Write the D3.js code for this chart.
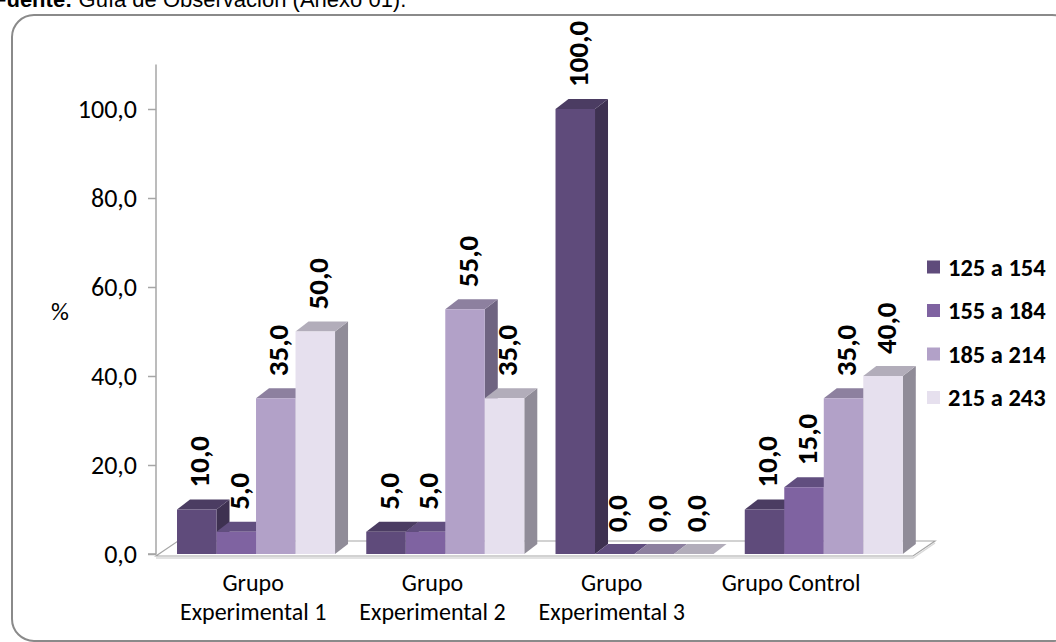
<!DOCTYPE html>
<html>
<head>
<meta charset="utf-8">
<script src="https://cdn.jsdelivr.net/npm/d3@7"></script>
<style>
  html, body { margin: 0; padding: 0; background: #fff; }
  svg { display: block; }
</style>
</head>
<body>
<svg id="chart" width="1056" height="642"></svg>
<script>
// Grupos evaluados y rangos de puntaje
const groups = ["Grupo Experimental 1", "Grupo Experimental 2", "Grupo Experimental 3", "Grupo Control"];
const groupLines = [["Grupo", "Experimental 1"], ["Grupo", "Experimental 2"], ["Grupo", "Experimental 3"], ["Grupo Control"]];
const series = ["125 a 154", "155 a 184", "185 a 214", "215 a 243"];
// Porcentaje por rango, un arreglo por serie (orden de los grupos)
const s125 = [10, 5, 100, 10];
const s155 = [5, 5, 0, 15];
const s185 = [35, 55, 0, 35];
const s215 = [50, 35, 0, 40];
const values = [s125, s155, s185, s215];
const yTicks = [0, 20, 40, 60, 80, 100];

// Colores de cada serie: cara frontal, superior y lateral
const palette = [
  { front: "#5f4b7b", top: "#4b3c62", side: "#3e3151" },
  { front: "#7f63a1", top: "#614e7f", side: "#4e3f66" },
  { front: "#b2a1c8", top: "#8d809f", side: "#6f6481" },
  { front: "#e6e0ee", top: "#b2adba", side: "#908c98" }
];

const FONT = "Carlito, Calibri, Lato, 'Open Sans', sans-serif";
const svg = d3.select("#chart");

// Marco redondeado del gráfico
svg.append("rect")
  .attr("x", 12).attr("y", 15).attr("width", 1062).attr("height", 626)
  .attr("rx", 22).attr("ry", 22)
  .attr("fill", "#fff").attr("stroke", "#8a8a8a").attr("stroke-width", 2);

// Nota de fuente
const src = svg.append("text")
  .attr("x", -7).attr("y", 7)
  .attr("font-family", "'Liberation Sans', Arial, sans-serif")
  .attr("font-size", 22).attr("fill", "#000");
src.append("tspan").attr("font-weight", "bold").text("Fuente:");
src.append("tspan").text(" Guía de Observación (Anexo 01).");

// Escalas
const y = d3.scaleLinear().domain([0, 110]).range([554, 64.5]);
const x0 = d3.scaleBand().domain(groups).range([161.4, 918.4]).paddingInner(0.165).paddingOuter(0.0825);
const x1 = d3.scaleBand().domain(series).range([0, x0.bandwidth()]);
const xLab = d3.scaleBand().domain(groups).range([163.5, 880.8]);

const depth = { dx: 13, dy: -10 };
const floorDepth = { dx: 22, dy: -15 };
const floorFront = 556, floorLeft = 156, floorRight = 913;

// Piso 3D
svg.append("path")
  .attr("d", `M${floorLeft},${floorFront + 2} L${floorRight},${floorFront + 2} L${floorRight + floorDepth.dx},${floorFront + 2 + floorDepth.dy}`)
  .attr("fill", "none").attr("stroke", "#d9d9d9").attr("stroke-width", 1.5);
svg.append("path")
  .attr("d", `M${floorLeft},${floorFront} L${floorRight},${floorFront} L${floorRight + floorDepth.dx},${floorFront + floorDepth.dy} L${floorLeft + floorDepth.dx},${floorFront + floorDepth.dy} Z`)
  .attr("fill", "#fff").attr("stroke", "#a6a6a6").attr("stroke-width", 1.2);

// Eje vertical
const axis = d3.axisLeft(y).tickValues(yTicks).tickSize(8).tickPadding(11)
  .tickFormat(d => d3.format(".1f")(d).replace(".", ","));
const gAxis = svg.append("g").attr("transform", "translate(156,0)").call(axis);
gAxis.select(".domain").attr("stroke", "#a6a6a6").attr("stroke-width", 1.5)
  .attr("d", `M-8,${y(0)}H0V${y(110)}`);
gAxis.selectAll(".tick line").attr("stroke", "#a6a6a6").attr("stroke-width", 1.5);
gAxis.selectAll(".tick text").attr("font-family", FONT).attr("font-size", 26).attr("fill", "#000");

svg.append("text").attr("x", 60).attr("y", 320).attr("text-anchor", "middle")
  .attr("font-family", FONT).attr("font-size", 25).text("%");

// Barras 3D (se dibujan de izquierda a derecha)
const bars = [];
groups.forEach((g, gi) => {
  series.forEach((s, si) => {
    bars.push({ g, s, si, v: values[si][gi] });
  });
});

const gBars = svg.append("g");
bars.forEach(b => {
  const c = palette[b.si];
  const xl = x0(b.g) + x1(b.s);
  const xr = xl + x1.bandwidth();
  const yt = y(b.v), yb = y(0);
  const { dx, dy } = depth;
  const grp = gBars.append("g");
  // cara lateral
  grp.append("path")
    .attr("d", `M${xr},${yb} L${xr + dx},${yb + dy} L${xr + dx},${yt + dy} L${xr},${yt} Z`)
    .attr("fill", c.side);
  // cara superior
  grp.append("path")
    .attr("d", `M${xl},${yt} L${xl + dx},${yt + dy} L${xr + dx},${yt + dy} L${xr},${yt} Z`)
    .attr("fill", c.top);
  // cara frontal
  if (b.v > 0) {
    grp.append("rect")
      .attr("x", xl).attr("y", yt).attr("width", xr - xl).attr("height", yb - yt)
      .attr("fill", c.front);
  }
});

// Etiquetas de valor (verticales)
bars.forEach(b => {
  const xc = x0(b.g) + x1(b.s) + x1.bandwidth() / 2 + 3;
  const yt = y(b.v) - 22;
  svg.append("text")
    .attr("transform", `translate(${xc + 9.5},${yt}) rotate(-90)`)
    .attr("font-family", FONT).attr("font-size", 29).attr("font-weight", "bold")
    .attr("fill", "#000")
    .text(d3.format(".1f")(b.v).replace(".", ","));
});

// Etiquetas de categoría
groups.forEach((g, gi) => {
  const cx = xLab(g) + xLab.bandwidth() / 2;
  const t = svg.append("text")
    .attr("x", cx).attr("y", 591)
    .attr("text-anchor", "middle").attr("font-family", FONT).attr("font-size", 24).attr("fill", "#000");
  groupLines[gi].forEach((line, li) => {
    t.append("tspan").attr("x", cx).attr("dy", li === 0 ? 0 : 29).text(line);
  });
});

// Leyenda
const legend = svg.append("g");
series.forEach((s, i) => {
  const ly = 267 + i * 43.5;
  legend.append("rect").attr("x", 927).attr("y", ly - 6.5).attr("width", 13).attr("height", 13)
    .attr("fill", palette[i].front);
  legend.append("text").attr("x", 948).attr("y", ly + 8.5)
    .attr("font-family", FONT).attr("font-size", 24.5).attr("font-weight", "bold").text(s);
});
</script>
</body>
</html>
